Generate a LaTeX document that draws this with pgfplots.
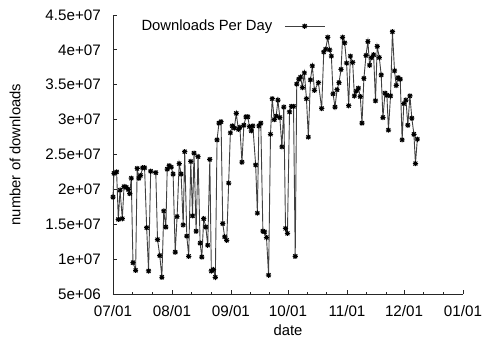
\documentclass[border=0pt]{standalone}
\usepackage{fontspec}
\setmainfont{Liberation Sans}
\usepackage{pgfplots}
\pgfplotsset{compat=1.18}
\pgfdeclareplotmark{gstar}{%
  \pgfpathmoveto{\pgfqpoint{-\pgfplotmarksize}{0pt}}\pgfpathlineto{\pgfqpoint{\pgfplotmarksize}{0pt}}%
  \pgfpathmoveto{\pgfqpoint{0pt}{-\pgfplotmarksize}}\pgfpathlineto{\pgfqpoint{0pt}{\pgfplotmarksize}}%
  \pgfpathmoveto{\pgfqpoint{-0.75\pgfplotmarksize}{-0.75\pgfplotmarksize}}\pgfpathlineto{\pgfqpoint{0.75\pgfplotmarksize}{0.75\pgfplotmarksize}}%
  \pgfpathmoveto{\pgfqpoint{-0.75\pgfplotmarksize}{0.75\pgfplotmarksize}}\pgfpathlineto{\pgfqpoint{0.75\pgfplotmarksize}{-0.75\pgfplotmarksize}}%
  \pgfusepathqstroke}
\pgfplotstableread{
day val
0 18.9
0.5 22.3
1.9 22.5
2.8 15.7
3.7 19.9
4.9 15.8
5.8 20.4
7.0 20.3
8.0 20.0
8.8 19.4
9.6 21.6
10.5 9.5
11.9 8.4
12.7 23.0
13.6 21.6
14.5 22.0
15.6 23.1
16.6 23.1
17.7 14.5
18.7 8.3
19.8 22.6
22.5 22.4
23.4 12.8
24.6 10.5
25.7 7.4
26.7 16.9
27.8 14.6
28.5 22.9
29.5 23.4
30.6 23.2
31.6 22.2
32.7 11.0
33.7 16.1
34.8 23.7
35.8 22.2
36.9 14.9
37.7 25.4
38.8 13.3
39.8 10.4
40.9 24.0
41.8 16.2
42.6 25.2
43.7 14.0
44.7 24.7
45.8 12.3
46.7 10.3
47.7 15.8
48.8 14.6
49.8 12.0
50.9 24.3
51.7 8.3
52.8 8.5
53.8 7.4
54.7 27.1
55.7 29.5
56.8 29.7
57.7 15.1
58.7 13.2
59.8 12.7
60.8 20.9
61.7 28.1
62.7 29.1
63.8 28.8
64.8 30.9
65.9 28.6
66.7 28.9
67.8 23.9
68.8 29.2
69.9 30.4
70.9 30.4
71.7 29.0
72.7 28.4
73.5 29.1
75.0 23.5
75.9 16.6
76.7 29.1
77.7 29.5
78.8 14.0
79.7 13.9
80.7 13.1
81.8 7.7
82.8 27.9
83.7 33.0
84.8 30.0
85.8 30.5
86.7 32.8
87.7 30.3
88.8 26.1
89.8 31.8
90.7 14.4
91.7 13.7
92.8 31.1
93.8 31.9
94.9 31.9
95.8 10.4
96.6 35.1
97.7 35.8
98.6 36.1
99.6 34.6
100.6 36.7
101.7 33.0
102.7 27.5
103.8 35.7
104.8 37.7
105.9 34.2
108.0 35.3
109.7 31.6
110.8 39.7
111.8 40.1
112.9 41.8
113.9 40.0
114.8 39.1
115.7 33.7
116.7 31.8
117.8 34.3
118.8 35.3
119.9 37.2
120.7 41.8
121.8 41.0
122.8 38.1
123.9 32.0
124.8 39.1
126.0 38.2
126.9 33.4
127.9 34.1
129.0 34.5
130.0 33.3
130.9 29.5
131.9 35.9
133.0 39.2
134.0 41.2
134.9 37.8
135.9 38.9
137.0 39.3
138.0 32.7
138.9 40.5
140.0 38.9
141.0 36.4
141.9 30.3
143.0 33.8
144.0 33.5
144.8 28.5
145.9 33.4
146.9 42.6
148.0 37.0
148.9 34.9
149.9 36.0
151.0 35.8
152.0 27.1
152.9 32.3
154.0 32.8
155.0 29.2
156.1 33.4
157.1 30.2
158.2 27.9
159.0 23.7
160.0 27.2
}\downloads
\begin{document}
\fontsize{14.8}{17}\selectfont
\begin{tikzpicture}
\begin{axis}[
  at={(0,0)}, anchor=south west,
  scale only axis, width=350pt, height=279pt,
  xmin=0, xmax=184, ymin=5, ymax=45,
  axis x line*=bottom, axis y line*=left,
  axis line style={-, line width=0.8pt, black!85},
  tick align=inside,
  major tick length=4.5pt, minor tick length=2.5pt,
  tick style={line width=0.8pt, black!85},
  xtick={0,31,62,92,123,153,184},
  xticklabels={07/01,08/01,09/01,10/01,11/01,12/01,01/01},
  minor xtick={10.3,20.7,41.3,51.7,72,82,102,112,133.3,143.7,163.3,173.7},
  ytick={5,10,15,20,25,30,35,40,45},
  yticklabels={5e+06,1e+07,1.5e+07,2e+07,2.5e+07,3e+07,3.5e+07,4e+07,4.5e+07},
  ticklabel style={font=\fontsize{15.2}{17}\selectfont},
  xticklabel style={anchor=base, yshift=-22pt},
  yticklabel style={anchor=east, xshift=-7pt},
  xlabel={date}, ylabel={number of downloads},
  every axis x label/.style={at={(axis description cs:0.5,-0.147)}, anchor=base, font=\fontsize{14.8}{17}\selectfont},
  every axis y label/.style={at={(axis description cs:-0.28,0.5)}, rotate=90, anchor=center, font=\fontsize{14.8}{17}\selectfont},
  legend plot pos=right,
  legend style={at={(axis description cs:0.615,0.96)}, anchor=east, draw=none, fill=none, column sep=10pt, font=\fontsize{14.8}{17}\selectfont},
  legend image code/.code={\draw[mark repeat=2,mark phase=2] plot coordinates {(0cm,0cm) (0.7cm,0cm) (1.4cm,0cm)};},
  clip=false,
]
\addplot[black!75, line width=0.9pt, mark=gstar, mark size=2.6pt, mark options={black, line width=1pt}] table[x=day,y=val] {\downloads};
\addlegendentry{Downloads Per Day}
\end{axis}
\pgfresetboundingbox
\path[use as bounding box] (-113pt,-44pt) rectangle (370pt,294pt);
\end{tikzpicture}
\end{document}
